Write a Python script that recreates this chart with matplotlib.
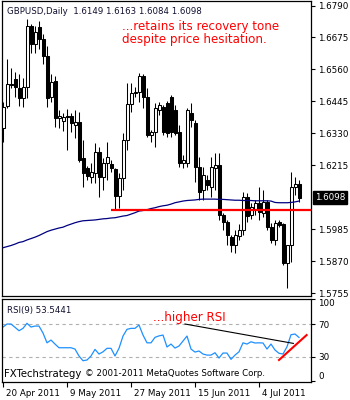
import numpy as np
import matplotlib
matplotlib.use("Agg")
import matplotlib.pyplot as plt
from matplotlib.transforms import ScaledTranslation

# GBPUSD daily candles (open, high, low, close), one per bar
opens = [1.6348, 1.6427, 1.6506, 1.6524, 1.6492, 1.6456, 1.6495, 1.6718, 1.6650, 1.6711,
         1.6668, 1.6610, 1.6459, 1.6517, 1.6384, 1.6373, 1.6391, 1.6391, 1.6359, 1.6370,
         1.6240, 1.6204, 1.6172, 1.6186, 1.6262, 1.6172, 1.6222, 1.6219, 1.6201, 1.6104,
         1.6168, 1.6305, 1.6434, 1.6474, 1.6477, 1.6535, 1.6459, 1.6323, 1.6334, 1.6413,
         1.6423, 1.6438, 1.6459, 1.6413, 1.6334, 1.6222, 1.6222, 1.6402, 1.6366, 1.6208,
         1.6125, 1.6161, 1.6136, 1.6204, 1.6215, 1.6035, 1.6010, 1.5956, 1.5927, 1.5960,
         1.5981, 1.6100, 1.6035, 1.6053, 1.6079, 1.6043, 1.6082, 1.5992, 1.5945, 1.6010,
         1.6003, 1.5863, 1.5927, 1.6136, 1.6149]
highs = [1.6441, 1.6596, 1.6564, 1.6549, 1.6542, 1.6528, 1.6740, 1.6722, 1.6718, 1.6736,
         1.6689, 1.6643, 1.6542, 1.6538, 1.6413, 1.6402, 1.6416, 1.6402, 1.6413, 1.6405,
         1.6305, 1.6212, 1.6222, 1.6294, 1.6280, 1.6240, 1.6298, 1.6233, 1.6204, 1.6186,
         1.6330, 1.6510, 1.6510, 1.6495, 1.6546, 1.6542, 1.6492, 1.6341, 1.6438, 1.6441,
         1.6431, 1.6448, 1.6467, 1.6431, 1.6359, 1.6251, 1.6420, 1.6438, 1.6377, 1.6244,
         1.6208, 1.6179, 1.6244, 1.6258, 1.6258, 1.6043, 1.6017, 1.5963, 1.5981, 1.6003,
         1.6118, 1.6114, 1.6079, 1.6089, 1.6136, 1.6125, 1.6089, 1.6007, 1.6017, 1.6017,
         1.6007, 1.5927, 1.6190, 1.6172, 1.6163]
lows = [1.6298, 1.6420, 1.6492, 1.6459, 1.6427, 1.6423, 1.6456, 1.6618, 1.6618, 1.6632,
        1.6578, 1.6423, 1.6441, 1.6352, 1.6348, 1.6337, 1.6269, 1.6334, 1.6312, 1.6226,
        1.6136, 1.6161, 1.6150, 1.6150, 1.6100, 1.6125, 1.6161, 1.6190, 1.6055, 1.6061,
        1.6125, 1.6269, 1.6405, 1.6459, 1.6441, 1.6420, 1.6316, 1.6298, 1.6280, 1.6395,
        1.6323, 1.6316, 1.6316, 1.6323, 1.6208, 1.6204, 1.6208, 1.6352, 1.6154, 1.6089,
        1.6089, 1.6125, 1.6100, 1.6125, 1.6017, 1.5981, 1.5927, 1.5902, 1.5898, 1.5945,
        1.5963, 1.6010, 1.6021, 1.6035, 1.6017, 1.6028, 1.5981, 1.5935, 1.5927, 1.5992,
        1.5856, 1.5773, 1.5866, 1.6107, 1.6084]
closes = [1.6423, 1.6506, 1.6503, 1.6495, 1.6456, 1.6495, 1.6715, 1.6650, 1.6693, 1.6668,
          1.6610, 1.6456, 1.6513, 1.6384, 1.6391, 1.6388, 1.6388, 1.6366, 1.6370, 1.6233,
          1.6186, 1.6175, 1.6190, 1.6262, 1.6172, 1.6222, 1.6244, 1.6204, 1.6104, 1.6168,
          1.6305, 1.6434, 1.6474, 1.6477, 1.6535, 1.6459, 1.6323, 1.6334, 1.6420, 1.6431,
          1.6334, 1.6330, 1.6334, 1.6330, 1.6222, 1.6233, 1.6413, 1.6377, 1.6208, 1.6118,
          1.6179, 1.6143, 1.6208, 1.6215, 1.6035, 1.6010, 1.5963, 1.5927, 1.5963, 1.5981,
          1.6100, 1.6032, 1.6064, 1.6079, 1.6046, 1.6082, 1.5992, 1.5945, 1.6007, 1.6000,
          1.5863, 1.5927, 1.6136, 1.6147, 1.6098]

# long moving average
ma = [1.5918, 1.5922, 1.5926, 1.5931, 1.5937, 1.5940, 1.5946, 1.5951, 1.5956, 1.5962,
      1.5969, 1.5976, 1.5981, 1.5985, 1.5989, 1.5992, 1.5998, 1.6003, 1.6008, 1.6012,
      1.6015, 1.6016, 1.6017, 1.6018, 1.6020, 1.6022, 1.6023, 1.6025, 1.6026, 1.6029,
      1.6032, 1.6034, 1.6039, 1.6044, 1.6050, 1.6052, 1.6055, 1.6059, 1.6062, 1.6066,
      1.6069, 1.6071, 1.6075, 1.6080, 1.6083, 1.6086, 1.6088, 1.6089, 1.6090, 1.6092,
      1.6093, 1.6093, 1.6093, 1.6093, 1.6092, 1.6092, 1.6091, 1.6090, 1.6089, 1.6089,
      1.6088, 1.6088, 1.6088, 1.6087, 1.6087, 1.6087, 1.6087, 1.6086, 1.6081, 1.6080,
      1.6080, 1.6080, 1.6081, 1.6083, 1.6086]

# RSI(9)
rsi = [66.3, 70.0, 70.0, 66.0, 61.8, 64.7, 70.9, 66.3, 67.5, 67.5,
       59.0, 47.0, 50.4, 45.5, 41.0, 41.0, 41.0, 41.0, 39.4, 30.9,
       25.1, 26.0, 30.9, 39.0, 33.3, 36.0, 40.3, 40.3, 30.9, 40.3,
       55.3, 63.5, 64.7, 64.7, 68.8, 56.5, 47.0, 47.0, 53.7, 55.5,
       56.5, 41.9, 45.5, 40.6, 43.1, 49.2, 55.3, 39.4, 35.7, 37.0,
       33.3, 32.0, 32.0, 34.9, 28.4, 34.5, 34.5, 26.8, 32.0, 36.0,
       47.0, 45.5, 48.3, 46.8, 47.0, 46.8, 39.4, 45.5, 38.2, 34.2,
       33.3, 42.2, 56.9, 57.8, 53.5441]

support_level = 1.6055
support_from = 27.0
rsi_down_x = [45.5, 72.6]
rsi_down_y = [70.0, 46.3]
rsi_up_x = [69.0, 75.9]
rsi_up_y = [26.0, 56.5]

price_ticks = [1.6790, 1.6675, 1.6560, 1.6445, 1.6330, 1.6215, 1.5985, 1.5870, 1.5755]
last_price = 1.6098
date_ticks = [0, 16, 32, 48, 64]
date_labels = ['20 Apr 2011', '9 May 2011', '27 May 2011', '15 Jun 2011', '4 Jul 2011']

W, H = 350, 400
fig = plt.figure(figsize=(W / 100, H / 100), dpi=100)


def fx(px):
    return px / W


def fy(py):
    return 1 - py / H


ax = fig.add_axes([fx(2), fy(296), fx(309), 295.5 / H])
ax2 = fig.add_axes([fx(2), fy(382), fx(309), 83 / H])

bars = np.arange(len(opens))
lw = 0.75

# candles
ax.vlines(bars, lows, highs, color='black', lw=lw, zorder=2)
for i in bars:
    o, c = opens[i], closes[i]
    lo, hi = min(o, c), max(o, c)
    face = 'white' if c >= o else 'black'
    if hi - lo < 0.00015:
        ax.hlines(o, i - 0.38, i + 0.38, color='black', lw=lw, zorder=3)
    else:
        ax.bar(i, hi - lo, bottom=lo, width=0.75, facecolor=face,
               edgecolor='black', lw=lw, zorder=3)

ax.plot(bars, ma, color='#000080', lw=0.9, zorder=4)
ax.hlines(support_level, support_from, 80, color='#ff0000', lw=1.6, zorder=5)

ax.set_xlim(-0.25, 77)
ax.set_ylim(1.6808 - 296 * 0.00035938, 1.6808)
ax.set_xticks([])
ax.yaxis.tick_right()
ax.set_yticks(price_ticks)
ax.set_yticklabels([f'{p:.4f}' for p in price_ticks])
ax.tick_params(axis='y', direction='out', length=3, width=0.8, pad=2,
               labelsize=6.3, colors='black')
for s in ax.spines.values():
    s.set_linewidth(0.9)

# current price box
ax.annotate(f'{last_price:.4f}', xy=(1.0, last_price), xycoords=('axes fraction', 'data'),
            xytext=(3, 0), textcoords='offset points', ha='left', va='center',
            fontsize=6.3, color='white',
            bbox=dict(boxstyle='square,pad=0.2', fc='black', ec='black'))

fig.text(fx(7), fy(11), 'GBPUSD,Daily  1.6149 1.6163 1.6084 1.6098',
         fontsize=6.2, color='#101030', va='center', ha='left')
fig.text(fx(122), fy(20), '...retains its recovery tone\ndespite price hesitation.',
         fontsize=8.6, color='#ff0000', va='top', ha='left', linespacing=1.05)

# RSI panel
ax2.axhline(70, color='#b0b0b0', lw=0.8, ls=(0, (3, 3)))
ax2.axhline(30, color='#b0b0b0', lw=0.8, ls=(0, (3, 3)))
ax2.plot(bars, rsi, color='#1e90ff', lw=0.9)
ax2.plot(rsi_down_x, rsi_down_y, color='black', lw=0.8)
ax2.plot(rsi_up_x, rsi_up_y, color='#ff0000', lw=1.5)

ax2.set_xlim(-0.25, 77)
ax2.set_ylim(-0.9, 100.6)
ax2.yaxis.tick_right()
ax2.set_yticks([0, 30, 70, 100])
ax2.set_yticklabels(['0', '30', '70', '100'])
ax2.tick_params(axis='y', direction='out', length=3, width=0.8, pad=2,
                labelsize=6.3)
for lab in ax2.get_yticklabels():
    if lab.get_text() == '100':
        lab.set_va('top')
    elif lab.get_text() == '0':
        lab.set_va('bottom')
ax2.set_xticks(date_ticks)
ax2.set_xticklabels(date_labels)
ax2.tick_params(axis='x', direction='out', length=3.5, width=0.8, pad=1.5,
                labelsize=6.3)
shift = ScaledTranslation(2 / 72, 0, fig.dpi_scale_trans)
for lab in ax2.get_xticklabels():
    lab.set_ha('left')
    lab.set_transform(lab.get_transform() + shift)
for s in ax2.spines.values():
    s.set_linewidth(0.9)

ax2.text(0.016, 0.92, 'RSI(9) 53.5441', transform=ax2.transAxes,
         fontsize=6.2, color='#101030', va='top', ha='left')
fig.text(fx(153), fy(317), '...higher RSI', fontsize=8.6, color='#ff0000',
         va='center', ha='left')
fig.text(fx(4), fy(374), 'FXTechstrategy', fontsize=7.3, color='black',
         va='center', ha='left')
fig.text(fx(85), fy(374), '\u00a9 2001-2011 MetaQuotes Software Corp.', fontsize=6.2,
         color='black', va='center', ha='left')

fig.savefig('out.png', dpi=100)
